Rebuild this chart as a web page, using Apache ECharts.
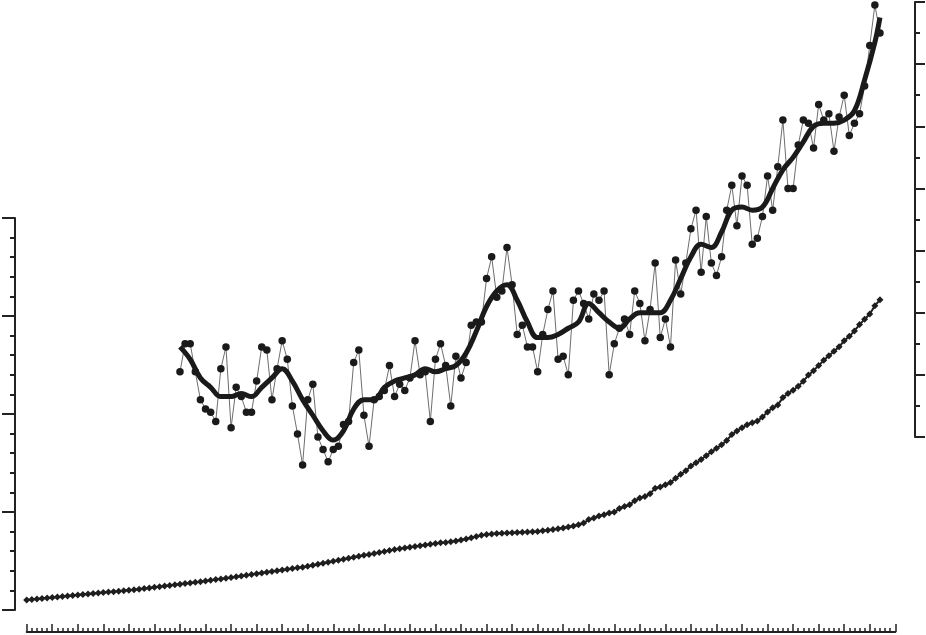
<!DOCTYPE html>
<html>
<head>
<meta charset="utf-8">
<script src="https://cdn.jsdelivr.net/npm/echarts@6/dist/echarts.min.js"></script>
<style>
  html, body { margin: 0; padding: 0; background: #fff; }
  #main { width: 926px; height: 635px; }
</style>
</head>
<body>
<div id="main"></div>
<script>
// CO2 (left axis), one value per year from 1850
var co2Start = 1850;
var co2Values = [
  284.1, 284.3, 284.5, 284.7, 284.9, 285.1, 285.3, 285.5, 285.7, 285.9,
  286.1, 286.3, 286.5, 286.7, 286.9, 287.1, 287.3, 287.5, 287.7, 287.9,
  288.1, 288.3, 288.5, 288.8, 289.0, 289.3, 289.5, 289.8, 290.0, 290.3,
  290.5, 290.8, 291.0, 291.3, 291.5, 291.8, 292.1, 292.4, 292.7, 293.0,
  293.3, 293.6, 293.9, 294.2, 294.5, 294.8, 295.1, 295.4, 295.7, 296.0,
  296.3, 296.6, 296.9, 297.2, 297.5, 297.9, 298.3, 298.7, 299.1, 299.5,
  299.9, 300.3, 300.7, 301.1, 301.5, 301.9, 302.3, 302.7, 303.1, 303.5,
  303.9, 304.3, 304.7, 305.0, 305.3, 305.6, 305.9, 306.2, 306.5, 306.8,
  307.1, 307.4, 307.6, 307.9, 308.2, 308.6, 309.0, 309.5, 310.0, 310.5,
  310.8, 311.0, 311.2, 311.3, 311.4, 311.5, 311.6, 311.7, 311.8, 311.9,
  312.0, 312.3, 312.6, 312.9, 313.2, 313.5, 313.9, 314.3, 314.8, 315.5,
  316.9, 317.6, 318.4, 318.9, 319.6, 320.0, 321.4, 322.2, 323.0, 324.6,
  325.7, 326.3, 327.5, 329.7, 330.2, 331.1, 332.0, 333.8, 335.4, 336.8,
  338.8, 340.1, 341.4, 343.0, 344.6, 346.0, 347.4, 349.2, 351.6, 353.1,
  354.4, 355.6, 356.4, 357.1, 358.8, 360.8, 362.6, 363.7, 366.7, 368.4,
  369.7, 371.3, 373.4, 375.9, 377.7, 379.8, 381.9, 383.8, 385.6, 387.4,
  389.9, 391.7, 393.9, 396.5, 398.7, 400.8, 404.2, 406.6
];

// temperature anomaly (right axis), one value per year from 1880
var tempStart = 1880;
var tempValues = [
  -0.19, -0.10, -0.10, -0.19, -0.28, -0.31, -0.32, -0.35, -0.18, -0.11,
  -0.37, -0.24, -0.27, -0.32, -0.32, -0.22, -0.11, -0.12, -0.28, -0.18,
  -0.09, -0.15, -0.30, -0.39, -0.49, -0.28, -0.23, -0.40, -0.44, -0.48,
  -0.44, -0.43, -0.36, -0.35, -0.16, -0.12, -0.33, -0.43, -0.28, -0.27,
  -0.25, -0.17, -0.27, -0.23, -0.25, -0.21, -0.09, -0.20, -0.19, -0.35,
  -0.15, -0.10, -0.17, -0.30, -0.14, -0.21, -0.16, -0.04, -0.03, -0.03,
   0.11,  0.18,  0.05,  0.07,  0.21,  0.09, -0.07, -0.04, -0.11, -0.11,
  -0.19, -0.07,  0.01,  0.07, -0.15, -0.14, -0.20,  0.04,  0.07,  0.03,
  -0.02,  0.06,  0.04,  0.07, -0.20, -0.10, -0.05, -0.02, -0.07,  0.07,
   0.03, -0.09,  0.01,  0.16, -0.08, -0.02, -0.11,  0.17,  0.06,  0.16,
   0.27,  0.33,  0.13,  0.31,  0.16,  0.12,  0.18,  0.33,  0.41,  0.28,
   0.44,  0.41,  0.22,  0.24,  0.31,  0.44,  0.33,  0.47,  0.62,  0.40,
   0.40,  0.54,  0.62,  0.61,  0.53,  0.67,  0.62,  0.64,  0.52,  0.63,
   0.70,  0.57,  0.61,  0.64,  0.73,  0.86,  0.99,  0.90
];

// smoothed temperature curve
var trendYears = [
  1880, 1882, 1884, 1886, 1888, 1890, 1892, 1894, 1896, 1898,
  1900, 1902, 1904, 1906, 1908, 1910, 1912, 1914, 1916, 1918,
  1920, 1922, 1924, 1926, 1928, 1930, 1932, 1934, 1936, 1938,
  1940, 1942, 1944, 1946, 1948, 1950, 1952, 1954, 1956, 1958,
  1960, 1962, 1964, 1966, 1968, 1970, 1972, 1974, 1976, 1978,
  1980, 1982, 1984, 1986, 1988, 1990, 1992, 1994, 1996, 1998,
  2000, 2002, 2004, 2006, 2008, 2010, 2012, 2014, 2016, 2017
];
var trendValues = [
  -0.11, -0.15, -0.21, -0.24, -0.27, -0.27, -0.26, -0.27, -0.24, -0.21,
  -0.18, -0.22, -0.28, -0.33, -0.38, -0.41, -0.38, -0.31, -0.28, -0.28,
  -0.24, -0.22, -0.21, -0.20, -0.18, -0.19, -0.18, -0.17, -0.13, -0.06,
   0.02,  0.07,  0.09,  0.04, -0.03, -0.08, -0.08, -0.07, -0.05, -0.03,
   0.03,  0.00, -0.03, -0.05, -0.02,  0.00,  0.00,  0.00,  0.04,  0.11,
   0.18,  0.22,  0.21,  0.26,  0.33,  0.34,  0.33,  0.34,  0.40,  0.46,
   0.50,  0.55,  0.60,  0.61,  0.61,  0.62,  0.65,  0.75,  0.87,  0.95
];

var co2Data = co2Values.map(function (v, i) { return [co2Start + i, v]; });
var tempData = tempValues.map(function (v, i) { return [tempStart + i, v]; });
var trendData = trendYears.map(function (y, i) { return [y, trendValues[i]]; });

var chart = echarts.init(document.getElementById('main'));
var gl = 26.7, gr = 30.7;
var hiddenX = { type: 'value', min: 1850, max: 2020, show: false };

var option = {
  animation: false,
  backgroundColor: '#ffffff',
  grid: [
    { left: gl, right: gr, top: 0, bottom: 3 },      // year axis
    { left: gl, right: gr, top: 218, bottom: 25 },   // CO2
    { left: gl, right: gr, top: 2, bottom: 198 }     // temperature
  ],
  xAxis: [
    {
      gridIndex: 0, type: 'value', min: 1850, max: 2020, interval: 5,
      axisLine: { show: true, onZero: false, lineStyle: { color: '#222', width: 2 } },
      axisTick: { show: true, inside: true, length: 8, lineStyle: { color: '#222', width: 1.5 } },
      minorTick: { show: true, splitNumber: 5, length: 4, lineStyle: { color: '#222', width: 1.5 } },
      axisLabel: { show: false },
      splitLine: { show: false }
    },
    Object.assign({ gridIndex: 1 }, hiddenX),
    Object.assign({ gridIndex: 2 }, hiddenX)
  ],
  yAxis: [
    { gridIndex: 0, type: 'value', min: 0, max: 1, show: false },
    {
      gridIndex: 1, type: 'value', position: 'left', offset: 11.7,
      min: 280, max: 440, interval: 40,
      axisLine: { show: true, lineStyle: { color: '#222', width: 2 } },
      axisTick: { show: true, length: 13, lineStyle: { color: '#222', width: 2 } },
      minorTick: { show: true, splitNumber: 5, length: 5, lineStyle: { color: '#222', width: 2 } },
      axisLabel: { show: false },
      splitLine: { show: false }
    },
    {
      gridIndex: 2, type: 'value', position: 'right', offset: 19.7,
      min: -0.4, max: 1.0, interval: 0.2,
      axisLine: { show: true, lineStyle: { color: '#222', width: 2 } },
      axisTick: { show: true, length: 10, lineStyle: { color: '#222', width: 2 } },
      minorTick: { show: true, splitNumber: 2, length: 5, lineStyle: { color: '#222', width: 2 } },
      axisLabel: { show: false },
      splitLine: { show: false }
    }
  ],
  series: [
    {
      type: 'line', xAxisIndex: 1, yAxisIndex: 1, data: co2Data,
      symbol: 'diamond', symbolSize: [7, 7], showSymbol: true, clip: false,
      itemStyle: { color: '#1e1e1e' },
      lineStyle: { color: '#1e1e1e', width: 2 },
      z: 2
    },
    {
      type: 'line', xAxisIndex: 2, yAxisIndex: 2, data: tempData,
      symbol: 'circle', symbolSize: 7.5, showSymbol: true, clip: false,
      itemStyle: { color: '#1a1a1a' },
      lineStyle: { color: '#6e6e6e', width: 1 },
      z: 2
    },
    {
      type: 'line', xAxisIndex: 2, yAxisIndex: 2, data: trendData,
      smooth: 0.4, symbol: 'none', clip: false,
      lineStyle: { color: '#1a1a1a', width: 5 },
      z: 3
    }
  ]
};
chart.setOption(option);
</script>
</body>
</html>
